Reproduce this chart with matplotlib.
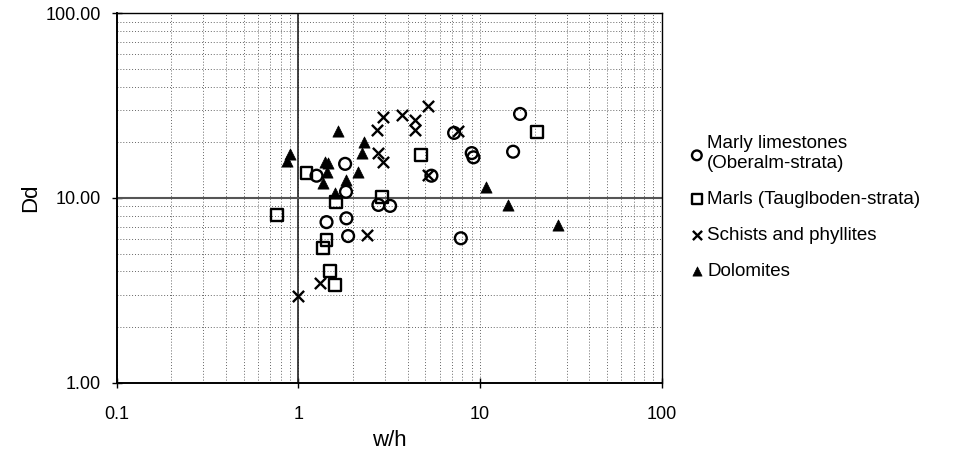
import matplotlib
matplotlib.use("Agg")
import matplotlib.pyplot as plt
from matplotlib.ticker import LogLocator, NullFormatter

plt.rcParams['font.family'] = ['Liberation Sans', 'DejaVu Sans']

# Data (w/h, Dd)
marly_x = [1.26, 1.81, 1.83, 1.43, 1.84, 1.88, 2.76, 3.20, 5.4, 7.2, 9.0, 9.2, 16.6, 15.2, 7.84]
marly_y = [13.2, 15.3, 10.8, 7.4, 7.76, 6.22, 9.17, 9.06, 13.2, 22.5, 17.5, 16.6, 28.5, 17.8, 6.05]

marls_x = [0.76, 1.11, 1.61, 1.43, 1.37, 1.50, 1.59, 2.88, 4.74, 20.5]
marls_y = [8.1, 13.6, 9.55, 5.93, 5.34, 4.04, 3.38, 10.08, 17.1, 22.7]

schist_x = [5.2, 3.71, 2.92, 2.70, 4.39, 4.39, 7.6, 2.76, 2.94, 5.2, 2.38, 1.32, 1.0]
schist_y = [31.5, 28.1, 27.5, 23.4, 26.4, 23.4, 23.0, 17.5, 15.7, 13.3, 6.3, 3.45, 2.95]

dolo_x = [0.90, 0.87, 1.40, 1.46, 1.43, 1.37, 1.65, 2.31, 2.25, 2.14, 1.83, 1.59, 10.8, 14.3, 26.7]
dolo_y = [17.3, 15.8, 15.7, 15.4, 13.9, 12.0, 23.1, 20.1, 17.6, 13.9, 12.5, 10.6, 11.5, 9.17, 7.14]

labels = ["Marly limestones\n(Oberalm-strata)", "Marls (Tauglboden-strata)",
          "Schists and phyllites", "Dolomites"]
xticks = [0.1, 1, 10, 100]
xticklabels = ["0.1", "1", "10", "100"]
yticks = [1, 10, 100]
yticklabels = ["1.00", "10.00", "100.00"]

fig = plt.figure(figsize=(9.55, 4.57), dpi=100)
ax = fig.add_axes([0.122, 0.1626, 0.571, 0.8084])
ax.set_xscale('log')
ax.set_yscale('log')
ax.set_xlim(0.1, 100)
ax.set_ylim(1, 100)

# grid
ax.xaxis.set_minor_locator(LogLocator(base=10, subs=range(2, 10)))
ax.yaxis.set_minor_locator(LogLocator(base=10, subs=range(2, 10)))
ax.xaxis.set_minor_formatter(NullFormatter())
ax.yaxis.set_minor_formatter(NullFormatter())
ax.grid(which='both', linestyle=(0, (1, 2)), color='#666666', linewidth=0.7)
ax.axvline(1, color='#222222', linewidth=1.2)
ax.axhline(10, color='#555555', linewidth=1.5)

ms = 8.5
ax.scatter(marly_x, marly_y, marker='o', s=ms**2, facecolors='none', edgecolors='black',
           linewidths=1.7, label=labels[0], zorder=3)
ax.scatter(marls_x, marls_y, marker='s', s=ms**2, facecolors='none', edgecolors='black',
           linewidths=1.7, label=labels[1], zorder=3)
ax.scatter(schist_x, schist_y, marker='x', s=(ms * 0.95)**2, color='black',
           linewidths=1.7, label=labels[2], zorder=3)
ax.scatter(dolo_x, dolo_y, marker='^', s=(ms * 0.95)**2, color='black',
           linewidths=0.5, label=labels[3], zorder=3)

ax.set_xticks(xticks)
ax.set_xticklabels(xticklabels, fontsize=13)
ax.set_yticks(yticks)
ax.set_yticklabels(yticklabels, fontsize=13)
ax.tick_params(which='major', direction='inout', length=7, width=1, pad=13, axis='x')
ax.tick_params(which='major', direction='inout', length=7, width=1, pad=8, axis='y')
ax.tick_params(which='minor', length=0)

for s in ['left', 'bottom']:
    ax.spines[s].set_linewidth(1.4)
for s in ['top', 'right']:
    ax.spines[s].set_linewidth(1.0)

ax.set_xlabel("w/h", fontsize=16, labelpad=5)
ax.set_ylabel("Dd", fontsize=16, labelpad=3)

leg = ax.legend(loc='upper left', bbox_to_anchor=(0.712, 0.72), bbox_transform=fig.transFigure,
                frameon=False, fontsize=13.5, handletextpad=0.05, labelspacing=1.0,
                handlelength=1.0, borderaxespad=0, markerscale=0.82)

fig.savefig("out.png", dpi=100)
